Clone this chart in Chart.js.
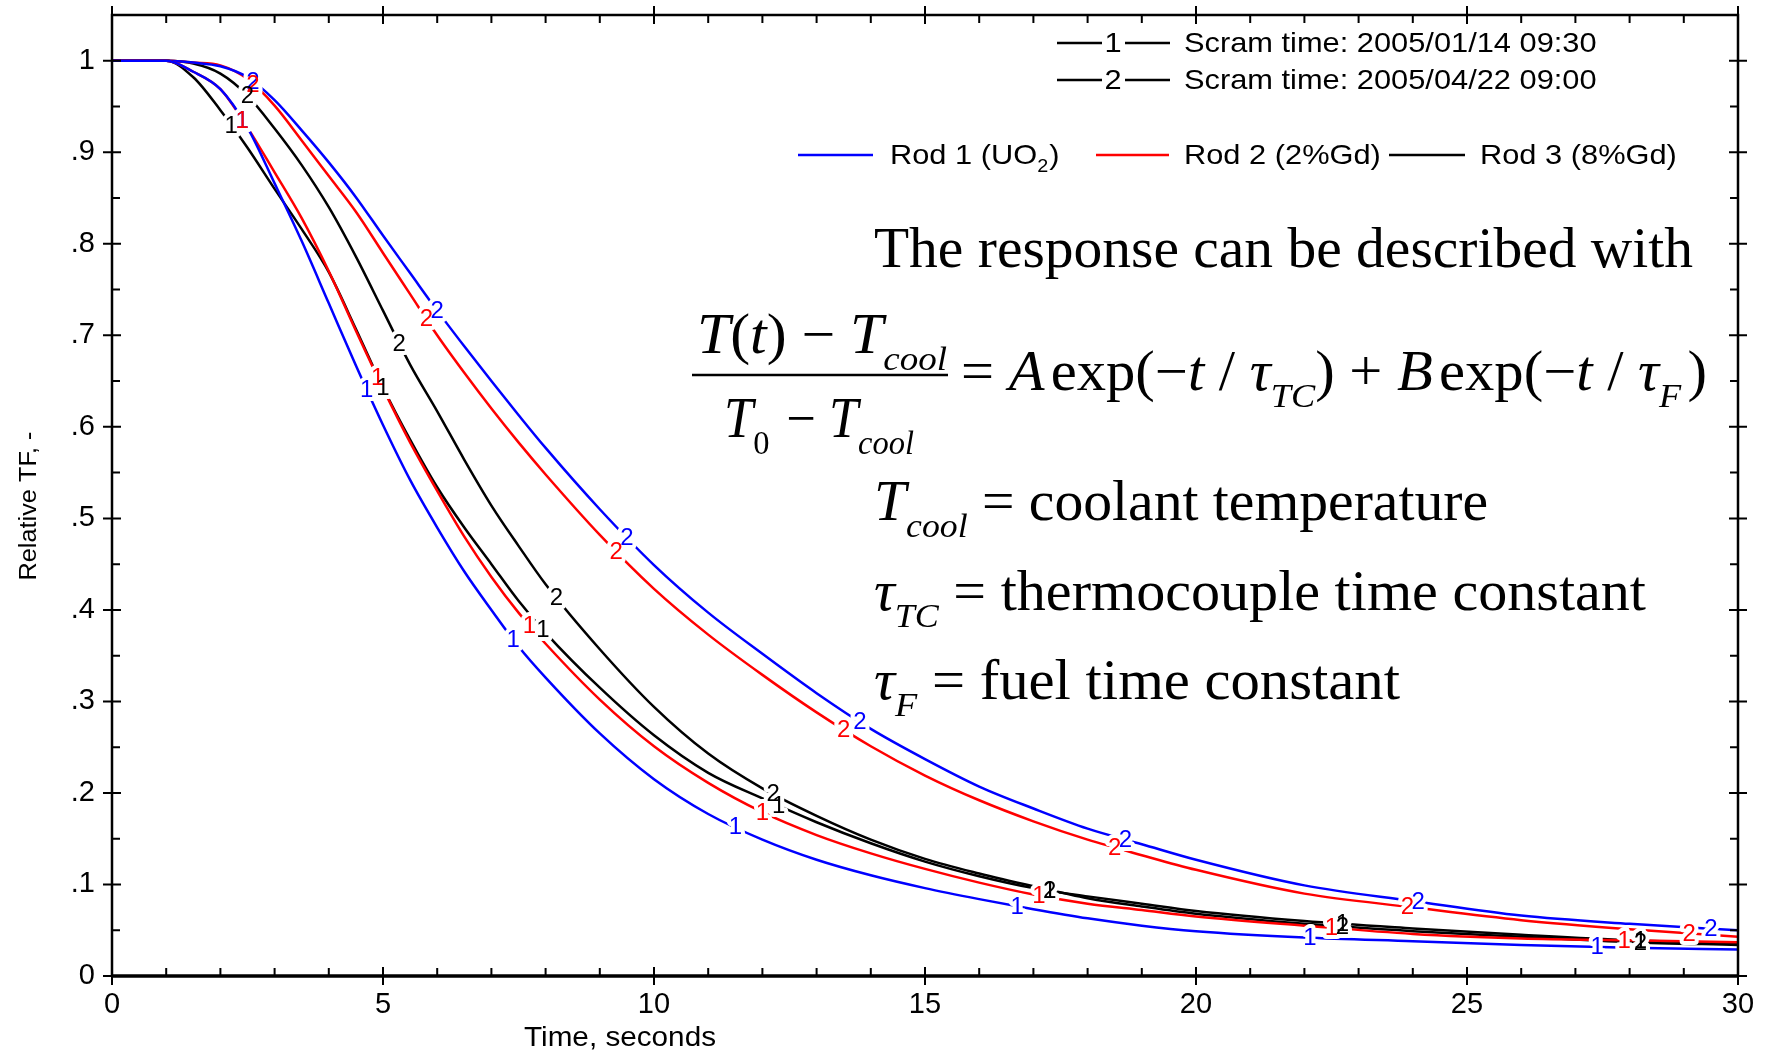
<!DOCTYPE html>
<html>
<head>
<meta charset="utf-8">
<script src="https://cdn.jsdelivr.net/npm/chart.js@4.4.0/dist/chart.umd.min.js"></script>
<style>
  html, body { margin: 0; padding: 0; background: #fff; }
  canvas { display: block; }
</style>
</head>
<body>
<canvas id="chart" width="1773" height="1057"></canvas>
<script>
// --- Data ---
const time = [0, 1, 1.5, 2, 2.5, 3, 3.5, 4, 4.5, 5, 5.5, 6, 6.5, 7, 7.5, 8, 9, 10, 11, 12, 13, 14, 15, 16, 17, 18, 19, 20, 22, 24, 26, 28, 30];

// scram 1 (2005/01/14 09:30)
const rod1Scram1 = [1, 1, 0.988, 0.969, 0.927, 0.866, 0.803, 0.735, 0.667, 0.602, 0.542, 0.49, 0.442, 0.4, 0.36, 0.326, 0.265, 0.215, 0.177, 0.149, 0.127, 0.11, 0.096, 0.084, 0.073, 0.063, 0.055, 0.049, 0.042, 0.038, 0.034, 0.031, 0.029];
const rod2Scram1 = [1, 1, 0.988, 0.969, 0.927, 0.878, 0.828, 0.77, 0.705, 0.642, 0.583, 0.53, 0.48, 0.436, 0.397, 0.363, 0.302, 0.251, 0.211, 0.179, 0.154, 0.134, 0.117, 0.102, 0.089, 0.079, 0.072, 0.065, 0.055, 0.046, 0.041, 0.039, 0.037];
const rod3Scram1 = [1, 1, 0.982, 0.946, 0.905, 0.86, 0.816, 0.769, 0.707, 0.643, 0.586, 0.534, 0.49, 0.45, 0.41, 0.375, 0.315, 0.263, 0.222, 0.194, 0.168, 0.145, 0.125, 0.109, 0.096, 0.087, 0.079, 0.071, 0.06, 0.052, 0.045, 0.039, 0.036];

// scram 2 (2005/04/22 09:00)
const rod1Scram2 = [1, 1, 0.998, 0.994, 0.982, 0.957, 0.924, 0.889, 0.851, 0.809, 0.768, 0.727, 0.688, 0.65, 0.613, 0.577, 0.51, 0.449, 0.397, 0.352, 0.309, 0.27, 0.237, 0.207, 0.183, 0.161, 0.144, 0.127, 0.099, 0.082, 0.066, 0.057, 0.05];
const rod2Scram2 = [1, 1, 0.998, 0.995, 0.98, 0.951, 0.913, 0.874, 0.835, 0.79, 0.745, 0.7, 0.659, 0.62, 0.583, 0.548, 0.482, 0.423, 0.373, 0.329, 0.288, 0.251, 0.219, 0.192, 0.169, 0.149, 0.132, 0.116, 0.09, 0.075, 0.061, 0.051, 0.043];
const rod3Scram2 = [1, 1, 0.997, 0.986, 0.962, 0.926, 0.886, 0.84, 0.786, 0.727, 0.668, 0.617, 0.564, 0.514, 0.47, 0.428, 0.357, 0.294, 0.243, 0.205, 0.175, 0.149, 0.128, 0.112, 0.098, 0.085, 0.076, 0.068, 0.057, 0.049, 0.043, 0.037, 0.034];

// where the "1"/"2" markers sit along each curve (seconds)
const marks1Rod1 = [2.4, 4.7, 7.4, 11.5, 16.7, 22.1, 27.4];
const marks1Rod2 = [2.4, 4.9, 7.7, 12.0, 17.1, 22.5, 27.9];
const marks1Rod3 = [2.2, 5.0, 7.95, 12.3, 17.3, 22.7, 28.2];
const marks2Rod1 = [2.6, 6.0, 9.5, 13.8, 18.7, 24.1, 29.5];
const marks2Rod2 = [2.6, 5.8, 9.3, 13.5, 18.5, 23.9, 29.1];
const marks2Rod3 = [2.5, 5.3, 8.2, 12.2, 17.3, 22.7, 28.2];

const rodNames = ["Rod 1 (UO", "Rod 2 (2%Gd)", "Rod 3 (8%Gd)"];
const scramNames = ["Scram time: 2005/01/14 09:30", "Scram time: 2005/04/22 09:00"];
const xTicks = [0, 5, 10, 15, 20, 25, 30];
const yTicks = [0, 0.1, 0.2, 0.3, 0.4, 0.5, 0.6, 0.7, 0.8, 0.9, 1];

const BLUE = "#0000ff", RED = "#ff0000", BLACK = "#000000";
const SANS = '"Liberation Sans", Arial, sans-serif';
const SERIF = '"Liberation Serif", "Times New Roman", serif';

const toPts = arr => time.map((t, i) => ({ x: t, y: arr[i] }));

const series = [
    { vals: rod1Scram1, color: BLUE,  tag: "1", marks: marks1Rod1 },
    { vals: rod2Scram1, color: RED,   tag: "1", marks: marks1Rod2 },
    { vals: rod3Scram1, color: BLACK, tag: "1", marks: marks1Rod3 },
    { vals: rod1Scram2, color: BLUE,  tag: "2", marks: marks2Rod1 },
    { vals: rod2Scram2, color: RED,   tag: "2", marks: marks2Rod2 },
    { vals: rod3Scram2, color: BLACK, tag: "2", marks: marks2Rod3 },
];

// --- Helpers ---
function interp(vals, t) {
    for (let i = 0; i < time.length - 1; i++) {
        if (t >= time[i] && t <= time[i + 1]) {
            const f = (t - time[i]) / (time[i + 1] - time[i]);
            return vals[i] + f * (vals[i + 1] - vals[i]);
        }
    }
    return vals[vals.length - 1];
}

// sans text, slightly widened like the original plot font
function sans(ctx, str, x, y, size, align) {
    ctx.save();
    ctx.font = size + "px " + SANS;
    ctx.textAlign = align || "left";
    ctx.textBaseline = "middle";
    ctx.translate(x, y);
    ctx.scale(1.1, 1);
    ctx.fillText(str, 0, 0);
    ctx.restore();
}

// runs of serif text with italics / subscripts, squeezed/stretched to a width
function runs(ctx, parts, x, y, size, width) {
    ctx.save();
    ctx.textAlign = "left";
    ctx.textBaseline = "alphabetic";
    ctx.fillStyle = "#000";
    const fontOf = p => (p.it ? "italic " : "") + (p.sub ? size * 0.62 : size) + "px " + SERIF;
    let natural = 0;
    for (const p of parts) { ctx.font = fontOf(p); natural += ctx.measureText(p.t).width + (p.gap || 0); }
    ctx.translate(x, y);
    ctx.scale(width ? width / natural : 1, 1);
    let cx = 0;
    for (const p of parts) {
        ctx.font = fontOf(p);
        ctx.fillText(p.t, cx, p.sub ? size * 0.3 : 0);
        cx += ctx.measureText(p.t).width + (p.gap || 0);
    }
    ctx.restore();
}

// --- Plugin: curve markers, frame, ticks, legend, annotation ---
const decor = {
    id: "decor",
    afterDatasetsDraw(chart) {
        const ctx = chart.ctx, xs = chart.scales.x, ys = chart.scales.y;
        ctx.save();
        ctx.font = "24px " + SANS;
        ctx.textAlign = "center";
        ctx.textBaseline = "middle";
        ctx.lineJoin = "round";
        const spots = [];
        series.forEach(s => s.marks.forEach(t => {
            spots.push({ x: xs.getPixelForValue(t), y: ys.getPixelForValue(interp(s.vals, t)), s });
        }));
        ctx.strokeStyle = "#fff";
        ctx.lineWidth = 8;
        spots.forEach(p => ctx.strokeText(p.s.tag, p.x, p.y + 1));
        spots.forEach(p => { ctx.fillStyle = p.s.color; ctx.fillText(p.s.tag, p.x, p.y + 1); });
        ctx.restore();
    },
    afterDraw(chart) {
        const ctx = chart.ctx, xs = chart.scales.x, ys = chart.scales.y;
        const { left, right, top, bottom } = chart.chartArea;
        ctx.save();
        ctx.strokeStyle = "#000";
        ctx.fillStyle = "#000";

        // frame
        ctx.lineWidth = 2.5;
        ctx.beginPath();
        ctx.moveTo(left, bottom); ctx.lineTo(left, top); ctx.lineTo(right, top); ctx.lineTo(right, bottom);
        ctx.stroke();
        ctx.lineWidth = 3.5;
        ctx.beginPath(); ctx.moveTo(left - 1, bottom); ctx.lineTo(right + 1, bottom); ctx.stroke();

        // ticks
        ctx.lineWidth = 2;
        ctx.beginPath();
        for (let t = 0; t <= 30; t++) {
            const px = xs.getPixelForValue(t);
            if (t % 5 === 0) {
                ctx.moveTo(px, bottom + 9); ctx.lineTo(px, bottom - 9);
                ctx.moveTo(px, top - 9); ctx.lineTo(px, top + 9);
            } else {
                ctx.moveTo(px, bottom); ctx.lineTo(px, bottom - 8);
                ctx.moveTo(px, top); ctx.lineTo(px, top + 8);
            }
        }
        for (let k = 0; k <= 21; k++) {
            const py = ys.getPixelForValue(k * 0.05);
            if (k % 2 === 0) {
                ctx.moveTo(left - 9, py); ctx.lineTo(left + 9, py);
                ctx.moveTo(right - 9, py); ctx.lineTo(right + 9, py);
            } else {
                ctx.moveTo(left, py); ctx.lineTo(left + 8, py);
                ctx.moveTo(right, py); ctx.lineTo(right - 8, py);
            }
        }
        ctx.stroke();

        // axis titles
        sans(ctx, "Time, seconds", 620, 1039, 27, "center");
        ctx.save();
        ctx.translate(30, 506);
        ctx.rotate(-Math.PI / 2);
        sans(ctx, "Relative TF, -", 0, 0, 23, "center");
        ctx.restore();

        // scram legend
        ctx.lineWidth = 2.5;
        scramNames.forEach((name, i) => {
            const y = [43, 80][i];
            ctx.beginPath();
            ctx.moveTo(1057, y); ctx.lineTo(1102, y);
            ctx.moveTo(1125, y); ctx.lineTo(1170, y);
            ctx.stroke();
            sans(ctx, String(i + 1), 1113, y + 1, 28, "center");
            sans(ctx, name, 1184, y + 1, 28);
        });

        // rod legend
        const rodCols = [BLUE, RED, BLACK];
        const lineX = [[798, 873], [1096, 1169], [1389, 1465]];
        const textX = [890, 1184, 1480];
        rodNames.forEach((name, i) => {
            const y = 155;
            ctx.strokeStyle = rodCols[i];
            ctx.beginPath(); ctx.moveTo(lineX[i][0], y); ctx.lineTo(lineX[i][1], y); ctx.stroke();
            sans(ctx, name, textX[i], y + 1, 28);
        });
        ctx.save();
        ctx.font = "28px " + SANS;
        const w = ctx.measureText(rodNames[0]).width * 1.1;
        ctx.restore();
        sans(ctx, "2", 890 + w, 167, 18);
        sans(ctx, ")", 890 + w + 12, 156, 28);

        // annotation (serif)
        const S = 56;
        runs(ctx, [{ t: "The response can be described with" }], 874, 267, S, 819);
        runs(ctx, [{ t: "T", it: 1 }, { t: "(" }, { t: "t", it: 1 }, { t: ")" }, { t: " − " },
                   { t: "T", it: 1 }, { t: "cool", it: 1, sub: 1 }], 697, 353, S, 250);
        runs(ctx, [{ t: "T", it: 1 }, { t: "0", sub: 1, gap: 4 }, { t: " − " },
                   { t: "T", it: 1 }, { t: "cool", it: 1, sub: 1 }], 724, 437, S, 190);
        ctx.lineWidth = 2.5;
        ctx.strokeStyle = "#000";
        ctx.beginPath(); ctx.moveTo(692, 375); ctx.lineTo(948, 375); ctx.stroke();
        runs(ctx, [{ t: "= " }, { t: "A", it: 1, gap: 6 }, { t: "exp(−" }, { t: "t", it: 1 }, { t: " / " },
                   { t: "τ", it: 1 }, { t: "TC", it: 1, sub: 1 }, { t: ") + " }, { t: "B", it: 1, gap: 6 },
                   { t: "exp(−" }, { t: "t", it: 1 }, { t: " / " }, { t: "τ", it: 1 },
                   { t: "F", it: 1, sub: 1, gap: 6 }, { t: ")" }], 961, 390, S, 746);
        runs(ctx, [{ t: "T", it: 1 }, { t: "cool", it: 1, sub: 1, gap: 14 }, { t: "= coolant temperature" }], 874, 520, S, 614);
        runs(ctx, [{ t: "τ", it: 1 }, { t: "TC", it: 1, sub: 1, gap: 14 }, { t: "= thermocouple time constant" }], 874, 610, S, 772);
        runs(ctx, [{ t: "τ", it: 1 }, { t: "F", it: 1, sub: 1, gap: 14 }, { t: "= fuel time constant" }], 874, 699, S, 526);

        ctx.restore();
    }
};

const fmtY = v => v === 0 ? "0" : (v >= 1 ? "1" : "." + Math.round(v * 10));

new Chart(document.getElementById("chart"), {
    type: "line",
    data: {
        datasets: series.map(s => ({
            data: toPts(s.vals),
            borderColor: s.color,
            borderWidth: 2.5,
            pointRadius: 0,
            fill: false,
            cubicInterpolationMode: "monotone"
        }))
    },
    options: {
        responsive: false,
        animation: false,
        layout: { padding: { top: 15, right: 35, left: 0, bottom: 0 } },
        plugins: { legend: { display: false }, tooltip: { enabled: false } },
        scales: {
            x: {
                type: "linear", min: 0, max: 30,
                grid: { display: false, drawTicks: false },
                border: { display: false },
                afterBuildTicks: s => { s.ticks = xTicks.map(v => ({ value: v })); },
                afterFit: s => { s.height = 81; s.paddingLeft = 0; s.paddingRight = 0; },
                ticks: { color: "#000", font: { family: SANS, size: 29 }, padding: 12, maxRotation: 0, autoSkip: false }
            },
            y: {
                type: "linear", min: 0, max: 1.05,
                grid: { display: false, drawTicks: false },
                border: { display: false },
                afterBuildTicks: s => { s.ticks = yTicks.map(v => ({ value: v })); },
                afterFit: s => { s.width = 112; s.paddingTop = 0; s.paddingBottom = 0; },
                ticks: { color: "#000", font: { family: SANS, size: 29 }, padding: 17, callback: fmtY }
            }
        }
    },
    plugins: [decor]
});
</script>
</body>
</html>
